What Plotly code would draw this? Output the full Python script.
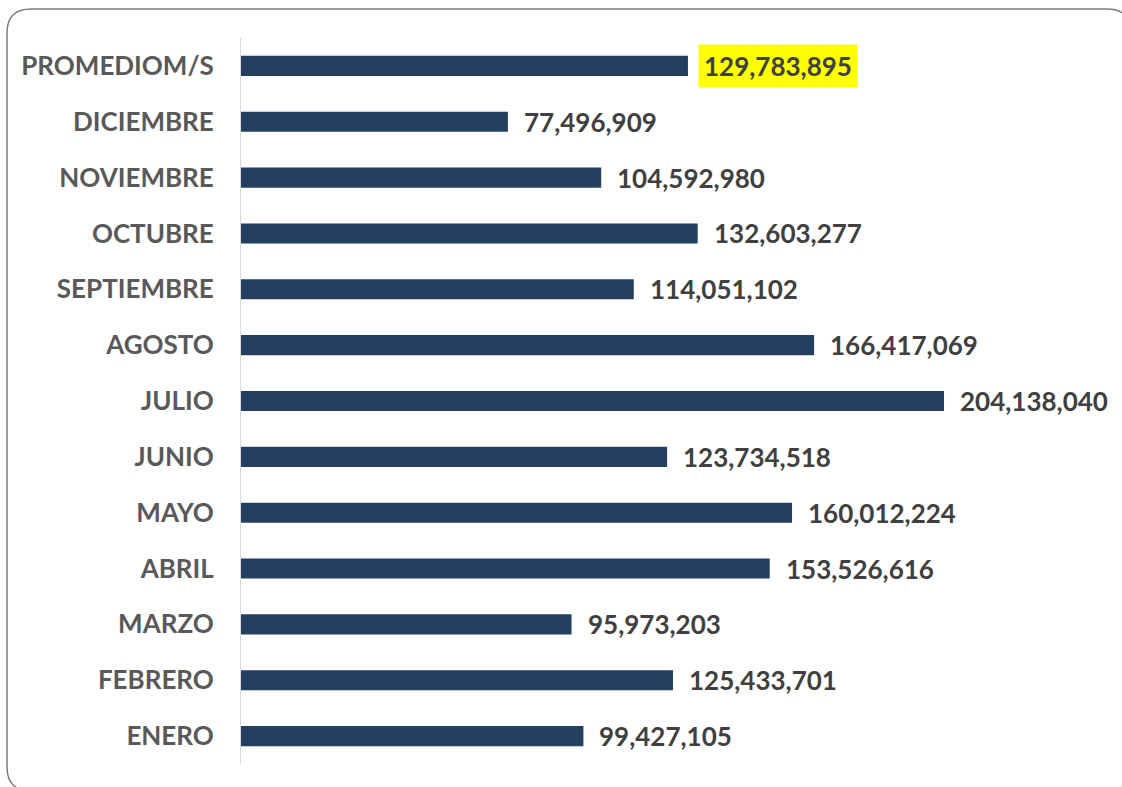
import plotly.graph_objects as go

categories = ["ENERO", "FEBRERO", "MARZO", "ABRIL", "MAYO", "JUNIO", "JULIO",
              "AGOSTO", "SEPTIEMBRE", "OCTUBRE", "NOVIEMBRE", "DICIEMBRE", "PROMEDIOM/S"]
values = [99427105, 125433701, 95973203, 153526616, 160012224, 123734518, 204138040,
          166417069, 114051102, 132603277, 104592980, 77496909, 129783895]
highlight = "PROMEDIOM/S"

BAR_COLOR = "#243F60"
TEXT_COLOR = "#404040"
CAT_COLOR = "#595959"
FONT = "Lato"

W, H = 1122, 787
L, R, T, B = 241, 50, 38, 23
pw, ph = W - L - R, H - T - B
xmax = 241.3e6

fig = go.Figure(go.Bar(
    x=values, y=categories, orientation="h",
    marker=dict(color=BAR_COLOR, line=dict(width=0)),
    width=0.36, hoverinfo="x+y",
))

annotations = []
for c, v in zip(categories, values):
    annotations.append(dict(
        x=v, y=c, xref="x", yref="y", text=f"{v:,}", showarrow=False,
        xanchor="left", yanchor="middle", xshift=10, borderpad=5,
        bgcolor="#FFFF00" if c == highlight else "rgba(0,0,0,0)",
        font=dict(family=FONT, size=26, color=TEXT_COLOR, weight="bold"),
    ))

def px(x):
    return (x - L) / pw

def py(y):
    return (H - B - y) / ph

# rounded border (pixel coords converted to paper)
x0, y0, x1, y1, r = 7, 9, 1131, 791, 24
path = (f"M {px(x0)},{py(y0 + r)} Q {px(x0)},{py(y0)} {px(x0 + r)},{py(y0)} "
        f"L {px(x1 - r)},{py(y0)} Q {px(x1)},{py(y0)} {px(x1)},{py(y0 + r)} "
        f"L {px(x1)},{py(y1 - r)} Q {px(x1)},{py(y1)} {px(x1 - r)},{py(y1)} "
        f"L {px(x0 + r)},{py(y1)} Q {px(x0)},{py(y1)} {px(x0)},{py(y1 - r)} Z")

fig.update_layout(
    width=W, height=H,
    margin=dict(l=L, r=R, t=T, b=B),
    paper_bgcolor="white", plot_bgcolor="white",
    showlegend=False,
    xaxis=dict(range=[0, xmax], visible=False, fixedrange=True),
    yaxis=dict(
        categoryorder="array", categoryarray=categories,
        range=[-0.5, len(categories) - 0.5],
        showline=True, linecolor="#D9D9D9", linewidth=1,
        ticks="", ticklabelstandoff=21,
        tickfont=dict(family=FONT, size=26, color=CAT_COLOR, weight="bold"),
        showgrid=False, zeroline=False, fixedrange=True,
    ),
    annotations=annotations,
    shapes=[dict(type="path", path=path, xref="paper", yref="paper",
                 line=dict(color="#7F7F7F", width=1.5), fillcolor="rgba(0,0,0,0)",
                 layer="below")],
)

fig.write_html("out.html", config={"displayModeBar": False},
               post_script="document.body.style.margin='0';")
